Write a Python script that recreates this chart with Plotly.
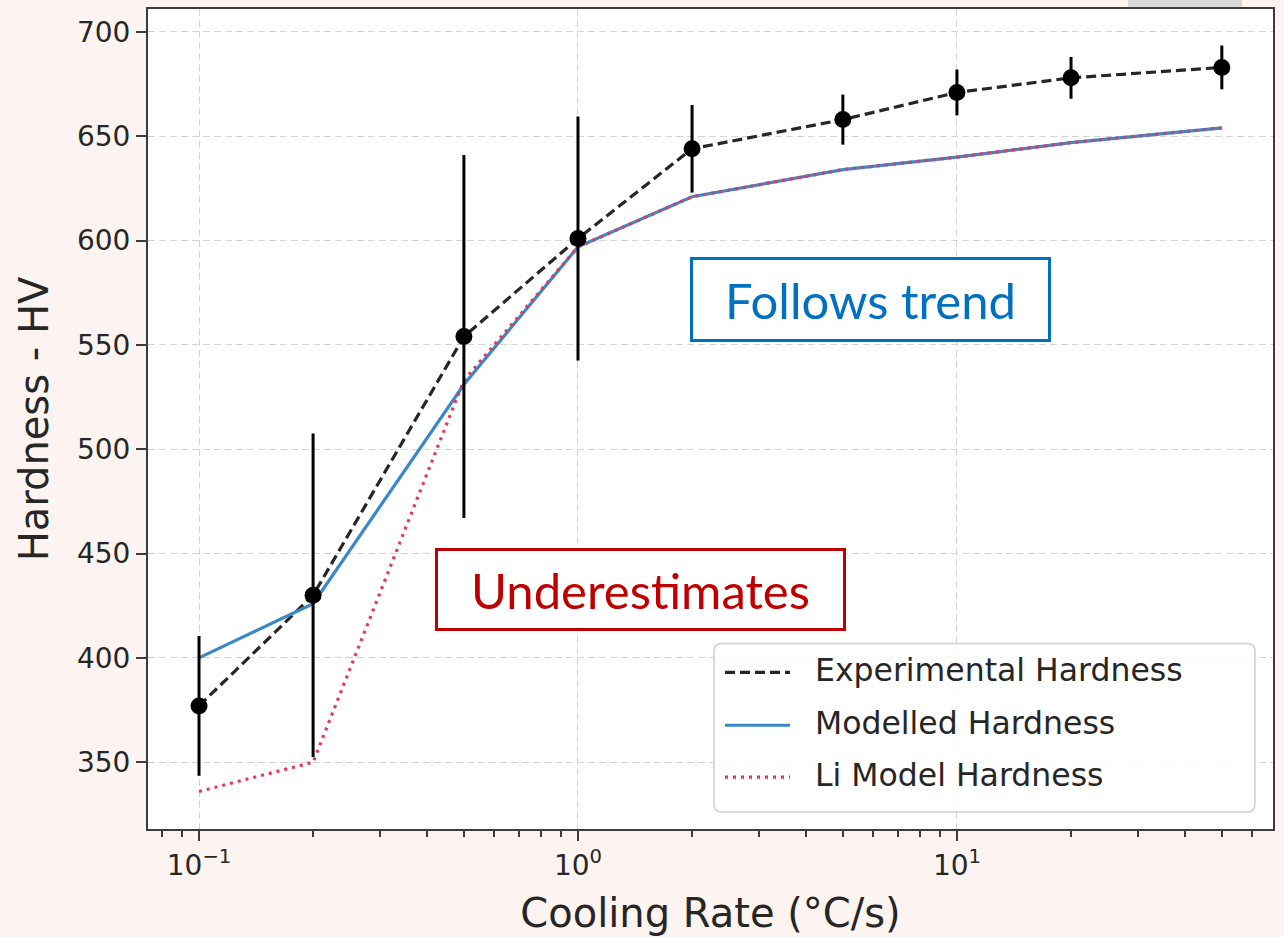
import plotly.graph_objects as go

# Cooling rate (°C/s) and hardness (HV)
cooling_rate = [0.1, 0.2, 0.5, 1, 2, 5, 10, 20, 50]
exp_hardness = [377, 430, 554, 601, 644, 658, 671, 678, 683]
exp_error = [33.5, 77.5, 87, 58.5, 21, 12, 11, 10, 10.5]
model_hardness = [400, 426, 531, 597, 621, 634, 640, 647, 654]
li_hardness = [336, 350, 533, 597, 621, 634, 640, 647, 654]

x_tick_vals = [0.1, 1, 10]
x_tick_text = ["10<sup>−1</sup>", "10<sup>0</sup>", "10<sup>1</sup>"]
x_minor_vals = [0.08, 0.09, 0.2, 0.3, 0.4, 0.5, 0.6, 0.7, 0.8, 0.9,
                2, 3, 4, 5, 6, 7, 8, 9, 20, 30, 40, 50, 60]
y_tick_vals = [350, 400, 450, 500, 550, 600, 650, 700]

legend_labels = ["Experimental Hardness", "Modelled Hardness", "Li Model Hardness"]

BG = "#fdf4f1"
AXIS = "#3c3c3c"
TEXT = "#262626"
GRID = "#d4d4d4"
C_EXP = "#262626"
C_MODEL = "#3a88c8"
C_LI = "#e5385c"
DASH_EXP = "10px,5px"
DASH_LI = "3px,5px"

# plot-area geometry in pixels, used to place paper-referenced overlays
L, R, T, B = 148, 1273, 7, 829


def px(xp):
    return (xp - L) / (R - L)


def py(yp):
    return (B - yp) / (B - T)


fig = go.Figure()

fig.add_trace(go.Scatter(
    x=cooling_rate, y=exp_hardness, mode="lines",
    name=legend_labels[0], showlegend=False,
    line=dict(color=C_EXP, width=3.2, dash=DASH_EXP),
))
fig.add_trace(go.Scatter(
    x=cooling_rate, y=model_hardness, mode="lines",
    name=legend_labels[1], showlegend=False,
    line=dict(color=C_MODEL, width=3.2),
))
fig.add_trace(go.Scatter(
    x=cooling_rate, y=li_hardness, mode="lines",
    name=legend_labels[2], showlegend=False,
    line=dict(color=C_LI, width=3.2, dash=DASH_LI),
))
fig.add_trace(go.Scatter(
    x=cooling_rate, y=exp_hardness, mode="markers",
    showlegend=False,
    marker=dict(color="black", size=17),
    error_y=dict(type="data", array=exp_error, visible=True,
                 color="black", thickness=3, width=0),
))

# Callout boxes
fig.add_annotation(
    xref="paper", yref="paper", x=px(870.5), y=py(298.5),
    xanchor="center", yanchor="middle",
    text="Follows trend", showarrow=False,
    font=dict(family="Lato", size=49, color="#0070c0"),
    bordercolor="#0070c0", borderwidth=3, borderpad=0,
    bgcolor="white", width=355, height=79,
)
fig.add_annotation(
    xref="paper", yref="paper", x=px(640.5), y=py(588.5),
    xanchor="center", yanchor="middle",
    text="Underestimates", showarrow=False,
    font=dict(family="Lato", size=49, color="#c00000"),
    bordercolor="#c00000", borderwidth=3, borderpad=0,
    bgcolor="white", width=405, height=77,
)

# Legend: rounded frame, line samples and labels
lx0, lx1, ly0, ly1, rad = 714, 1255, 643, 812, 8
rx, ry = rad / (R - L), rad / (B - T)
X0, X1, Y0, Y1 = px(lx0), px(lx1), py(ly1), py(ly0)
frame = (f"M {X0 + rx},{Y0} L {X1 - rx},{Y0} Q {X1},{Y0} {X1},{Y0 + ry} "
         f"L {X1},{Y1 - ry} Q {X1},{Y1} {X1 - rx},{Y1} "
         f"L {X0 + rx},{Y1} Q {X0},{Y1} {X0},{Y1 - ry} "
         f"L {X0},{Y0 + ry} Q {X0},{Y0} {X0 + rx},{Y0} Z")
fig.add_shape(type="path", xref="paper", yref="paper", path=frame,
              fillcolor="rgba(255,255,255,0.85)",
              line=dict(color="#d0d0d0", width=1.5))

legend_rows = [672, 725, 777]
legend_styles = [
    dict(color=C_EXP, width=3.2, dash=DASH_EXP),
    dict(color=C_MODEL, width=3.2),
    dict(color=C_LI, width=3.2, dash=DASH_LI),
]
for label, row, style in zip(legend_labels, legend_rows, legend_styles):
    fig.add_shape(type="line", xref="paper", yref="paper",
                  x0=px(725), x1=px(790), y0=py(row), y1=py(row), line=style)
    fig.add_annotation(xref="paper", yref="paper", x=px(813), y=py(row - 2),
                       xanchor="left", yanchor="middle", showarrow=False,
                       text=label, font=dict(family="DejaVu Sans", size=31.5, color=TEXT))

# small grey tab at the top edge
fig.add_shape(
    type="rect", xref="paper", yref="paper",
    x0=px(1128), x1=px(1242), y0=py(5), y1=py(-2),
    fillcolor="#d9d9d9", line=dict(width=0), layer="below",
)

fig.update_layout(
    width=1284, height=937,
    margin=dict(l=L, r=1284 - R, t=T, b=937 - B),
    paper_bgcolor=BG, plot_bgcolor="white",
    font=dict(family="DejaVu Sans", color=TEXT),
    showlegend=False,
    xaxis=dict(
        type="log", range=[-1.1346, 1.834],
        tickmode="array", tickvals=x_tick_vals, ticktext=x_tick_text,
        ticks="outside", ticklen=10, tickwidth=2, tickcolor=AXIS,
        tickfont=dict(size=28, color=TEXT),
        minor=dict(tickmode="array", tickvals=x_minor_vals, ticks="outside",
                   ticklen=6, tickwidth=1.5, tickcolor=AXIS, showgrid=False),
        showgrid=True, gridcolor=GRID, gridwidth=1.2, griddash="7px,4px",
        showline=True, linecolor=AXIS, linewidth=2, mirror=True,
        zeroline=False,
        title=dict(text="Cooling Rate (°C/s)", font=dict(size=40, color=TEXT), standoff=18),
    ),
    yaxis=dict(
        range=[318, 711],
        tickmode="array", tickvals=y_tick_vals,
        ticks="outside", ticklen=10, tickwidth=2, tickcolor=AXIS,
        tickfont=dict(size=28, color=TEXT),
        showgrid=True, gridcolor=GRID, gridwidth=1.2, griddash="7px,4px",
        showline=True, linecolor=AXIS, linewidth=2, mirror=True,
        zeroline=False,
        title=dict(text="Hardness - HV", font=dict(size=40, color=TEXT), standoff=16),
    ),
)

fig.write_html("out.html")
